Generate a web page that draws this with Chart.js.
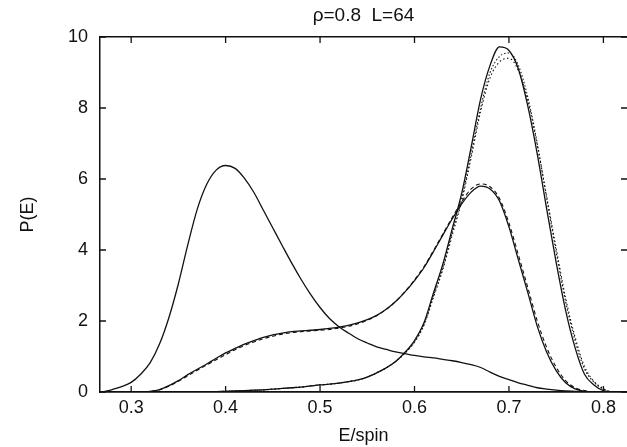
<!DOCTYPE html>
<html>
<head>
<meta charset="utf-8">
<script src="https://cdn.jsdelivr.net/npm/chart.js@4"></script>
<style>
  body { margin: 0; background: #fff; }
  #wrap { width: 627px; height: 447px; }
</style>
</head>
<body>
<div id="wrap"><canvas id="chart" width="627" height="447"></canvas></div>
<script>
// energy grid (E/spin) shared by all curves
const energy = [
  0.27, 0.28, 0.29, 0.30, 0.31, 0.32, 0.33, 0.34, 0.35, 0.36,
  0.37, 0.38, 0.39, 0.40, 0.41, 0.42, 0.43, 0.44, 0.45, 0.46,
  0.47, 0.48, 0.49, 0.50, 0.51, 0.52, 0.53, 0.54, 0.55, 0.56,
  0.57, 0.58, 0.59, 0.60, 0.61, 0.62, 0.63, 0.64, 0.65, 0.66,
  0.67, 0.68, 0.69, 0.70, 0.71, 0.72, 0.73, 0.74, 0.75, 0.76,
  0.77, 0.78, 0.79, 0.80, 0.81, 0.82
];

// low-energy peak
const curveA = [
  0.00, 0.07, 0.15, 0.27, 0.50, 0.82, 1.35, 2.10, 3.05, 4.15,
  5.15, 5.85, 6.25, 6.38, 6.30, 6.02, 5.62, 5.12, 4.62, 4.12,
  3.63, 3.17, 2.75, 2.38, 2.07, 1.84, 1.66, 1.50, 1.38, 1.27,
  1.20, 1.13, 1.08, 1.03, 0.99, 0.96, 0.92, 0.88, 0.83, 0.77,
  0.69, 0.56, 0.44, 0.35, 0.26, 0.19, 0.12, 0.08, 0.05, 0.03,
  0.02, 0.01, 0.00, 0.00, 0.00, 0.00
];

// broad curve with shoulder
const curveB = [
  0.00, 0.00, 0.00, 0.00, 0.00, 0.02, 0.07, 0.18, 0.32, 0.49,
  0.64, 0.79, 0.95, 1.10, 1.23, 1.35, 1.45, 1.54, 1.61, 1.66,
  1.70, 1.72, 1.74, 1.76, 1.79, 1.83, 1.88, 1.95, 2.04, 2.16,
  2.33, 2.55, 2.82, 3.14, 3.50, 3.95, 4.42, 4.88, 5.30, 5.63,
  5.80, 5.72, 5.38, 4.65, 3.72, 2.80, 1.85, 1.12, 0.60, 0.26,
  0.09, 0.02, 0.00, 0.00, 0.00, 0.00
];
const curveBDashed = [
  0.00, 0.00, 0.00, 0.00, 0.00, 0.02, 0.06, 0.16, 0.30, 0.46,
  0.61, 0.76, 0.91, 1.05, 1.19, 1.31, 1.41, 1.50, 1.57, 1.63,
  1.67, 1.70, 1.72, 1.74, 1.76, 1.80, 1.85, 1.92, 2.02, 2.15,
  2.32, 2.55, 2.83, 3.16, 3.53, 3.98, 4.45, 4.92, 5.36, 5.72,
  5.86, 5.78, 5.45, 4.76, 3.86, 2.94, 2.00, 1.25, 0.70, 0.32,
  0.12, 0.04, 0.00, 0.00, 0.00, 0.00
];

// sharp high-energy peak
const curveC = [
  0.00, 0.00, 0.00, 0.00, 0.00, 0.00, 0.00, 0.00, 0.00, 0.00,
  0.00, 0.00, 0.01, 0.02, 0.03, 0.04, 0.05, 0.06, 0.08, 0.10,
  0.12, 0.14, 0.17, 0.20, 0.22, 0.25, 0.29, 0.34, 0.42, 0.54,
  0.68, 0.86, 1.12, 1.45, 1.95, 2.78, 3.60, 4.60, 5.60, 6.90,
  8.25, 9.20, 9.72, 9.62, 9.10, 8.05, 6.70, 5.15, 3.65, 2.30,
  1.25, 0.50, 0.20, 0.04, 0.00, 0.00
];
const curveCDot1 = [
  0.00, 0.00, 0.00, 0.00, 0.00, 0.00, 0.00, 0.00, 0.00, 0.00,
  0.00, 0.00, 0.01, 0.02, 0.03, 0.04, 0.05, 0.06, 0.08, 0.10,
  0.12, 0.14, 0.17, 0.20, 0.22, 0.25, 0.29, 0.34, 0.42, 0.54,
  0.68, 0.86, 1.10, 1.42, 1.90, 2.70, 3.50, 4.50, 5.45, 6.70,
  8.00, 9.00, 9.45, 9.55, 9.20, 8.30, 7.00, 5.45, 3.95, 2.55,
  1.45, 0.65, 0.28, 0.08, 0.00, 0.00
];
const curveCDot2 = [
  0.00, 0.00, 0.00, 0.00, 0.00, 0.00, 0.00, 0.00, 0.00, 0.00,
  0.00, 0.00, 0.01, 0.02, 0.03, 0.04, 0.05, 0.06, 0.08, 0.10,
  0.12, 0.14, 0.17, 0.20, 0.22, 0.25, 0.29, 0.34, 0.42, 0.54,
  0.68, 0.86, 1.10, 1.40, 1.88, 2.66, 3.45, 4.42, 5.38, 6.60,
  7.90, 8.85, 9.30, 9.40, 9.05, 8.20, 6.95, 5.50, 4.05, 2.65,
  1.55, 0.72, 0.30, 0.10, 0.00, 0.00
];

const xTicks = [0.3, 0.4, 0.5, 0.6, 0.7, 0.8];
const yTicks = [0, 2, 4, 6, 8, 10];

const FONT = 'Liberation Sans, Arial, sans-serif';
const INK = '#111';

function series(values, dash, width) {
  return {
    data: values.map((v, i) => ({ x: energy[i], y: v })),
    borderColor: INK,
    borderWidth: width,
    borderDash: dash,
    pointRadius: 0,
    fill: false,
    cubicInterpolationMode: 'monotone'
  };
}

// small tick marks drawn inward on all four sides
const innerTicks = {
  id: 'innerTicks',
  afterDraw(chart) {
    const { ctx, chartArea: a, scales } = chart;
    ctx.save();
    ctx.strokeStyle = INK;
    ctx.lineWidth = 1.3;
    ctx.beginPath();
    xTicks.forEach(v => {
      const px = scales.x.getPixelForValue(v);
      ctx.moveTo(px, a.bottom);
      ctx.lineTo(px, a.bottom - 6);
      ctx.moveTo(px, a.top);
      ctx.lineTo(px, a.top + 6);
    });
    yTicks.forEach(v => {
      const py = scales.y.getPixelForValue(v);
      ctx.moveTo(a.left, py);
      ctx.lineTo(a.left + 6, py);
      ctx.moveTo(a.right, py);
      ctx.lineTo(a.right - 6, py);
    });
    ctx.stroke();
    ctx.restore();
  }
};

new Chart(document.getElementById('chart'), {
  type: 'line',
  data: {
    datasets: [
      series(curveCDot1, [1.5, 2], 1.1),
      series(curveCDot2, [1.5, 2.5], 1.1),
      series(curveBDashed, [4, 3], 1.1),
      series(curveA, [], 1.3),
      series(curveB, [], 1.3),
      series(curveC, [], 1.3)
    ]
  },
  options: {
    responsive: false,
    animation: false,
    layout: { padding: 0 },
    plugins: {
      legend: { display: false },
      tooltip: { enabled: false }
    },
    scales: {
      x: {
        type: 'linear',
        position: 'bottom',
        min: 0.267,
        max: 0.825,
        afterBuildTicks: s => { s.ticks = xTicks.map(v => ({ value: v })); },
        afterFit: s => { s.height = 55; },
        grid: { display: false, drawTicks: false },
        border: { display: true, color: INK, width: 1.8 },
        ticks: {
          padding: 5,
          color: INK,
          font: { family: FONT, size: 18 },
          callback: v => v.toFixed(1)
        },
        title: {
          display: true,
          text: 'E/spin',
          color: INK,
          font: { family: FONT, size: 18 },
          padding: { top: 0, bottom: 0 }
        }
      },
      xTop: {
        type: 'linear',
        position: 'top',
        min: 0.267,
        max: 0.825,
        afterFit: s => { s.height = 37; },
        grid: { display: false, drawTicks: false },
        border: { display: true, color: INK, width: 1.5 },
        ticks: { display: false },
        title: {
          display: true,
          text: 'ρ=0.8  L=64',
          color: INK,
          font: { family: FONT, size: 19 },
          padding: { top: 4, bottom: 0 }
        }
      },
      y: {
        min: 0,
        max: 10,
        afterBuildTicks: s => { s.ticks = yTicks.map(v => ({ value: v })); },
        afterFit: s => { s.width = 100; },
        grid: { display: false, drawTicks: false },
        border: { display: true, color: INK, width: 1.5 },
        ticks: {
          padding: 12,
          color: INK,
          font: { family: FONT, size: 18 }
        },
        title: {
          display: true,
          text: 'P(E)',
          color: INK,
          font: { family: FONT, size: 18 },
          padding: { top: 17, bottom: 0 }
        }
      }
    }
  },
  plugins: [innerTicks]
});
</script>
</body>
</html>
